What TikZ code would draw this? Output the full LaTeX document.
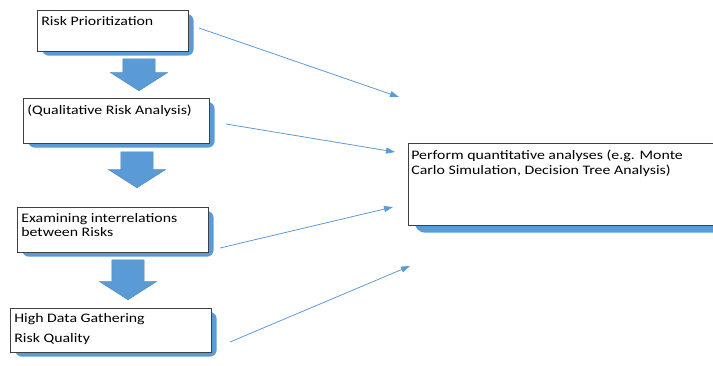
\documentclass[tikz,border=0pt]{standalone}
\usepackage{fontspec}
\setmainfont{Carlito}[FakeStretch=1.22]
\usetikzlibrary{arrows.meta,shapes.arrows,backgrounds}
\definecolor{officeblue}{HTML}{5B9BD5}
\newcommand{\boxtext}[3]{\parbox[t][#2][t]{#1}{\raggedright #3}}

\begin{document}
\begin{tikzpicture}[x=1pt, y=-1pt,
    stage/.style={draw=black!75, line width=0.7pt, fill=white, anchor=north west,
        inner xsep=4pt, inner ysep=6pt, font=\fontsize{13}{15}\selectfont},
    downarrow/.style={single arrow, rotate=-90, anchor=tip, fill=officeblue,
        draw=officeblue!85!black, line width=0.4pt, inner xsep=0pt, inner ysep=16pt,
        single arrow head extend=12.5pt, single arrow tip angle=115},
    shadowfill/.style={fill=officeblue, rounded corners=7pt},
    link/.style={draw=officeblue, line width=0.8pt, -{Triangle[length=9pt,width=6pt]}}]
    \useasboundingbox (0,0) rectangle (713,365);

    % Nodes
    \node[stage] (prior) at (37,10) {\boxtext{143pt}{29pt}{Risk Prioritization}};
    \node[stage, inner ysep=7pt] (qual) at (23,98) {\boxtext{178pt}{31pt}{(Qualitative Risk Analysis)}};
    \node[stage] (inter) at (17,207) {\boxtext{183pt}{33pt}{Examining interrelations\\[-1pt] between Risks}};
    \node[stage, inner ysep=5pt] (gather) at (10,308) {\boxtext{193pt}{34pt}{High Data Gathering\\[5pt] Risk Quality}};
    \node[stage, inner xsep=3pt, inner ysep=7pt] (quant) at (408,143) {\boxtext{314pt}{68pt}{Perform quantitative analyses (e.g. Monte\\ Carlo Simulation, Decision Tree Analysis)}};

    % Block arrows
    \node[downarrow, minimum height=32pt] (down1) at (139,91) {};
    \node[downarrow, minimum height=36pt] (down2) at (137,188) {};
    \node[downarrow, minimum height=40pt] (down3) at (128,300) {};

    % Shadows
    \begin{scope}[on background layer]
        \foreach \b in {prior,qual,inter,gather}
            \fill[shadowfill] ([shift={(5,4)}]\b.north west) rectangle ([shift={(5,4)}]\b.south east);
        \fill[shadowfill, rounded corners=10pt] ([shift={(7,7)}]quant.north west) rectangle ([shift={(7,7)}]quant.south east);
    \end{scope}

    % Connector ends
    \coordinate (s1) at (199,28);  \coordinate (e1) at (399,97);
    \coordinate (s2) at (226,124); \coordinate (e2) at (395,152);
    \coordinate (s3) at (220,248); \coordinate (e3) at (393,207);
    \coordinate (s4) at (230,342); \coordinate (e4) at (410,266);

    % Edges
    \draw[link] (s1) -- (e1);
    \draw[link] (s2) -- (e2);
    \draw[link] (s3) -- (e3);
    \draw[link] (s4) -- (e4);
\end{tikzpicture}
\end{document}
